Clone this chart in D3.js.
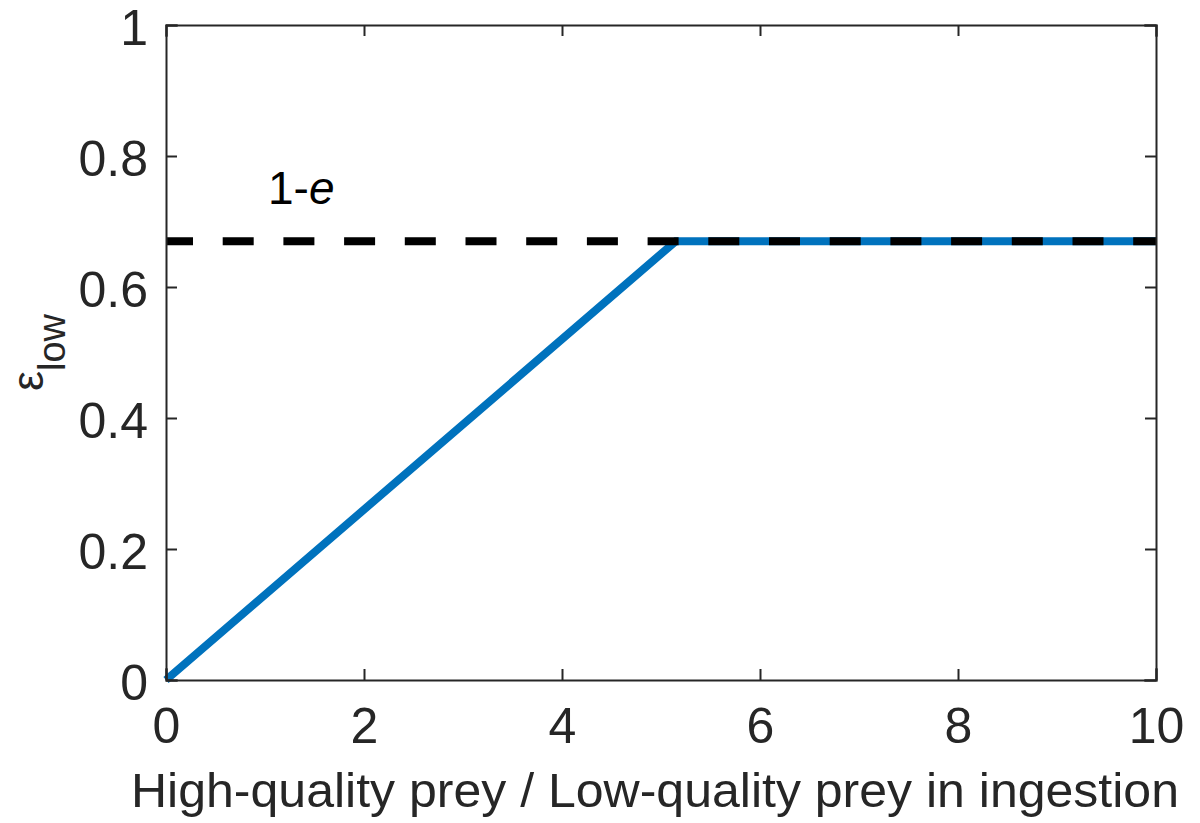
<!DOCTYPE html>
<html>
<head>
<meta charset="utf-8">
<script src="https://cdn.jsdelivr.net/npm/d3@7"></script>
<style>
  body { margin: 0; background: #fff; }
  text { font-family: "Liberation Sans", Arial, Helvetica, sans-serif; }
</style>
</head>
<body>
<div id="chart"></div>
<script>
// Data
const xTicks = [0, 2, 4, 6, 8, 10];
const yTicks = [0, 0.2, 0.4, 0.6, 0.8, 1];
const ratio = [0, 5.15, 10];          // high-quality / low-quality prey in ingestion
const epsLow = [0, 0.67, 0.67];       // epsilon_low
const oneMinusE = 0.67;               // 1-e threshold

// Chart dimensions
const width = 1200;
const height = 823;
const marginTop = 25;
const marginRight = 44;
const marginBottom = 143;
const marginLeft = 166;
const axisColour = "#262626";

const graph = d3.create("svg")
    .attr("width", width)
    .attr("height", height)
    .style("background", "#fff");

// Scales
const xscale = d3.scaleLinear()
    .domain([0, 10])
    .range([marginLeft, width - marginRight]);

const yscale = d3.scaleLinear()
    .domain([0, 1])
    .range([height - marginBottom, marginTop]);

// Blue line (drawn first, the dashed line sits on top)
const points = ratio.map((r, i) => ({ x: r, y: epsLow[i] }));
const lineGenerator = d3.line()
    .x(d => xscale(d.x))
    .y(d => yscale(d.y));

graph.append("path")
    .attr("d", lineGenerator(points))
    .style("fill", "none")
    .style("stroke", "#0072BD")
    .style("stroke-width", 8)
    .style("stroke-linecap", "butt");

// Dashed 1-e line
graph.append("path")
    .attr("d", lineGenerator([{ x: 0, y: oneMinusE }, { x: 10, y: oneMinusE }]))
    .style("fill", "none")
    .style("stroke", "#000")
    .style("stroke-width", 8)
    .style("stroke-dasharray", "31 29.7")
    .style("stroke-dashoffset", 4);

// Box and axes (ticks pointing inward, on all four sides)
const tickLen = 11;
const fmt = d3.format("~g");

graph.append("g")
    .attr("transform", `translate(0,${height - marginBottom})`)
    .call(d3.axisBottom(xscale).tickValues(xTicks).tickSize(-tickLen).tickPadding(tickLen + 16).tickFormat(fmt))
    .call(g => g.selectAll("text").attr("font-size", 50).attr("fill", axisColour));

graph.append("g")
    .attr("transform", `translate(0,${marginTop})`)
    .call(d3.axisTop(xscale).tickValues(xTicks).tickSize(-tickLen).tickFormat(""));

graph.append("g")
    .attr("transform", `translate(${marginLeft},0)`)
    .call(d3.axisLeft(yscale).tickValues(yTicks).tickSize(-tickLen).tickPadding(tickLen + 7).tickFormat(fmt))
    .call(g => g.selectAll("text").attr("font-size", 50).attr("fill", axisColour).attr("dy", "0.38em"));

graph.append("g")
    .attr("transform", `translate(${width - marginRight},0)`)
    .call(d3.axisRight(yscale).tickValues(yTicks).tickSize(-tickLen).tickFormat(""));

graph.selectAll(".domain, .tick line")
    .attr("stroke", axisColour)
    .attr("stroke-width", 2);
graph.selectAll(".domain").attr("stroke-linecap", "square");

// Annotation
graph.append("text")
    .attr("x", xscale(1.03))
    .attr("y", yscale(0.726))
    .attr("font-size", 46)
    .attr("fill", "#000")
    .call(t => {
        t.append("tspan").text("1-");
        t.append("tspan").attr("font-style", "italic").text("e");
    });

// Axis labels
graph.append("text")
    .attr("x", 655)
    .attr("y", 807)
    .attr("text-anchor", "middle")
    .attr("font-size", 48)
    .attr("textLength", 1048)
    .attr("lengthAdjust", "spacingAndGlyphs")
    .attr("fill", axisColour)
    .text("High-quality prey / Low-quality prey in ingestion");

graph.append("text")
    .attr("transform", `translate(43,${(marginTop + height - marginBottom) / 2}) rotate(-90)`)
    .attr("text-anchor", "middle")
    .attr("fill", axisColour)
    .call(t => {
        t.append("tspan").attr("font-size", 45).text("ε");
        t.append("tspan").attr("font-size", 38).attr("dy", 22).text("low");
    });

chart.append(graph.node());
</script>
</body>
</html>
